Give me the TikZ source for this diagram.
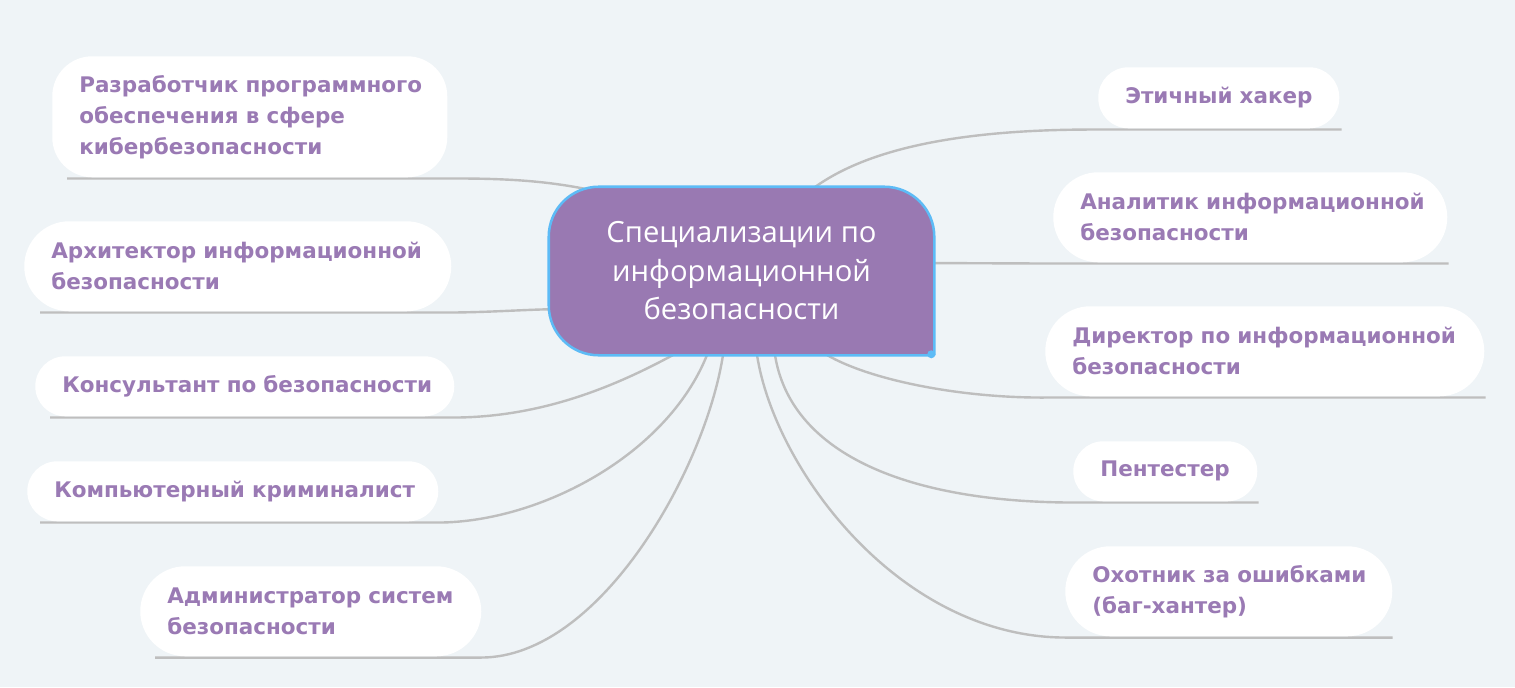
\documentclass[tikz,border=0pt]{standalone}
\usepackage{fontspec}
\usetikzlibrary{calc}
\newfontfamily\leaffont{DejaVu Sans}
\newfontfamily\centerfont{Open Sans}
\definecolor{bg}{HTML}{EFF4F7}
\definecolor{cfill}{HTML}{9979B2}
\definecolor{cborder}{HTML}{5DBBF6}
\definecolor{ltext}{HTML}{9A7AB4}
\definecolor{conn}{HTML}{BEBEBE}
\newcommand\oneline[1]{\mbox{#1}}
\pgfdeclarelayer{connlayer}
\pgfdeclarelayer{shapelayer}
\pgfsetlayers{connlayer,shapelayer,main}
\tikzset{
  leaf/.style={fill=white, anchor=north west, align=left, inner xsep=20.25pt, inner ysep=0pt,
    text=ltext, font=\leaffont\bfseries\fontsize{16.1}{23.25}\selectfont},
  centernode/.style={text=white, align=center, inner sep=0pt,
    font=\centerfont\fontsize{21.9}{28.9}\selectfont},
  connline/.style={draw=conn, line width=1.8pt}
}
\begin{document}
\begin{tikzpicture}[x=0.75pt,y=-0.75pt]
\begin{pgfonlayer}{connlayer}
\fill[bg] (0,0) rectangle (1515,687);
\end{pgfonlayer}
\useasboundingbox (0,0) rectangle (1515,687);
% leaf boxes (named)
\node[leaf, minimum width=296.25pt, minimum height=90.75pt, text width=255.75pt, rounded corners=30pt] (dev) at (52,56)
  {\oneline{Разработчик программного}\\\oneline{обеспечения в сфере}\\\oneline{кибербезопасности}};
\node[leaf, minimum width=320.25pt, minimum height=67.5pt, text width=279.75pt, rounded corners=33.75pt] (arch) at (24,221)
  {\oneline{Архитектор информационной}\\\oneline{безопасности}};
\node[leaf, minimum width=314.25pt, minimum height=45pt, text width=273.75pt, rounded corners=22.5pt] (cons) at (35,356)
  {\oneline{Консультант по безопасности}};
\node[leaf, minimum width=308.25pt, minimum height=45pt, text width=267.75pt, rounded corners=22.5pt] (crim) at (27,461)
  {\oneline{Компьютерный криминалист}};
\node[leaf, minimum width=255.75pt, minimum height=67.5pt, text width=215.25pt, rounded corners=33.75pt] (admin) at (140,566)
  {\oneline{Администратор систем}\\\oneline{безопасности}};
\node[leaf, minimum width=180.75pt, minimum height=45.75pt, text width=140.25pt, rounded corners=22.5pt] (eth) at (1098,67)
  {\oneline{Этичный хакер}};
\node[leaf, minimum width=295.5pt, minimum height=67.5pt, text width=255pt, rounded corners=33.75pt] (anal) at (1053,172)
  {\oneline{Аналитик информационной}\\\oneline{безопасности}};
\node[leaf, minimum width=329.25pt, minimum height=67.5pt, text width=288.75pt, rounded corners=33.75pt] (dir) at (1045,306)
  {\oneline{Директор по информационной}\\\oneline{безопасности}};
\node[leaf, minimum width=138pt, minimum height=45pt, text width=97.5pt, rounded corners=22.5pt] (pent) at (1073,441)
  {\oneline{Пентестер}};
\node[leaf, minimum width=245.25pt, minimum height=67.5pt, text width=204.75pt, rounded corners=33.75pt] (bug) at (1065,546)
  {\oneline{Охотник за ошибками}\\\oneline{(баг-хантер)}};
% central node
\node[centernode, minimum width=288.75pt, minimum height=126pt] (c) at (741.5,271)
  {Специализации по\\информационной\\безопасности};
\begin{pgfonlayer}{shapelayer}
\draw[fill=cfill, draw=cborder, line width=1.9pt, rounded corners=37.5pt]
  (c.south east) -- (c.south west) -- (c.north west) -- (c.north east) -- (c.south east);
\fill[cborder] ($(c.south east)+(-3,-1)$) circle (3pt);
\end{pgfonlayer}
% attachment points on the central node
\coordinate (c-dev) at (600,192);
\coordinate (c-arch) at (570,309);
\coordinate (c-cons) at (673,355);
\coordinate (c-crim) at (707,355);
\coordinate (c-admin) at (723,355);
\coordinate (c-eth) at (815,187);
\coordinate (c-anal) at (920,263);
\coordinate (c-dir) at (827,355);
\coordinate (c-pent) at (775,355);
\coordinate (c-bug) at (757,355);
% connectors
\begin{pgfonlayer}{connlayer}
\draw[connline] ($(dev.south west)+(15,1)$) -- ($(dev.south east)+(0,1)$)
  .. controls (520,178) and (560,183) .. (c-dev);
\draw[connline] ($(arch.south west)+(16,1)$) -- ($(arch.south east)+(0,1)$)
  .. controls (500,312) and (530,309) .. (c-arch);
\draw[connline] ($(cons.south west)+(15,1)$) -- ($(cons.south east)+(0,1)$)
  .. controls (540,417) and (612,388) .. (c-cons);
\draw[connline] ($(crim.south west)+(13,1)$) -- ($(crim.south east)+(0,1)$)
  .. controls (540,522) and (667,455) .. (c-crim);
\draw[connline] ($(admin.south west)+(15,1)$) -- ($(admin.south east)+(0,1)$)
  .. controls (600,657) and (705,470) .. (c-admin);
\draw[connline] ($(eth.south east)+(2,1)$) -- ($(eth.south west)+(0,1)$)
  .. controls (940,129) and (860,155) .. (c-eth);
\draw[connline] ($(anal.south east)+(1,1)$) -- ($(anal.south west)+(0,1)$) -- (c-anal);
\draw[connline] ($(dir.south east)+(1,1)$) -- ($(dir.south west)+(0,1)$)
  .. controls (960,398) and (870,380) .. (c-dir);
\draw[connline] ($(pent.south east)+(1,1)$) -- ($(pent.south west)+(0,1)$)
  .. controls (900,502) and (790,450) .. (c-pent);
\draw[connline] ($(bug.south east)+(0,1)$) -- ($(bug.south west)+(0,1)$)
  .. controls (900,637) and (775,470) .. (c-bug);
\end{pgfonlayer}
\end{tikzpicture}
\end{document}
